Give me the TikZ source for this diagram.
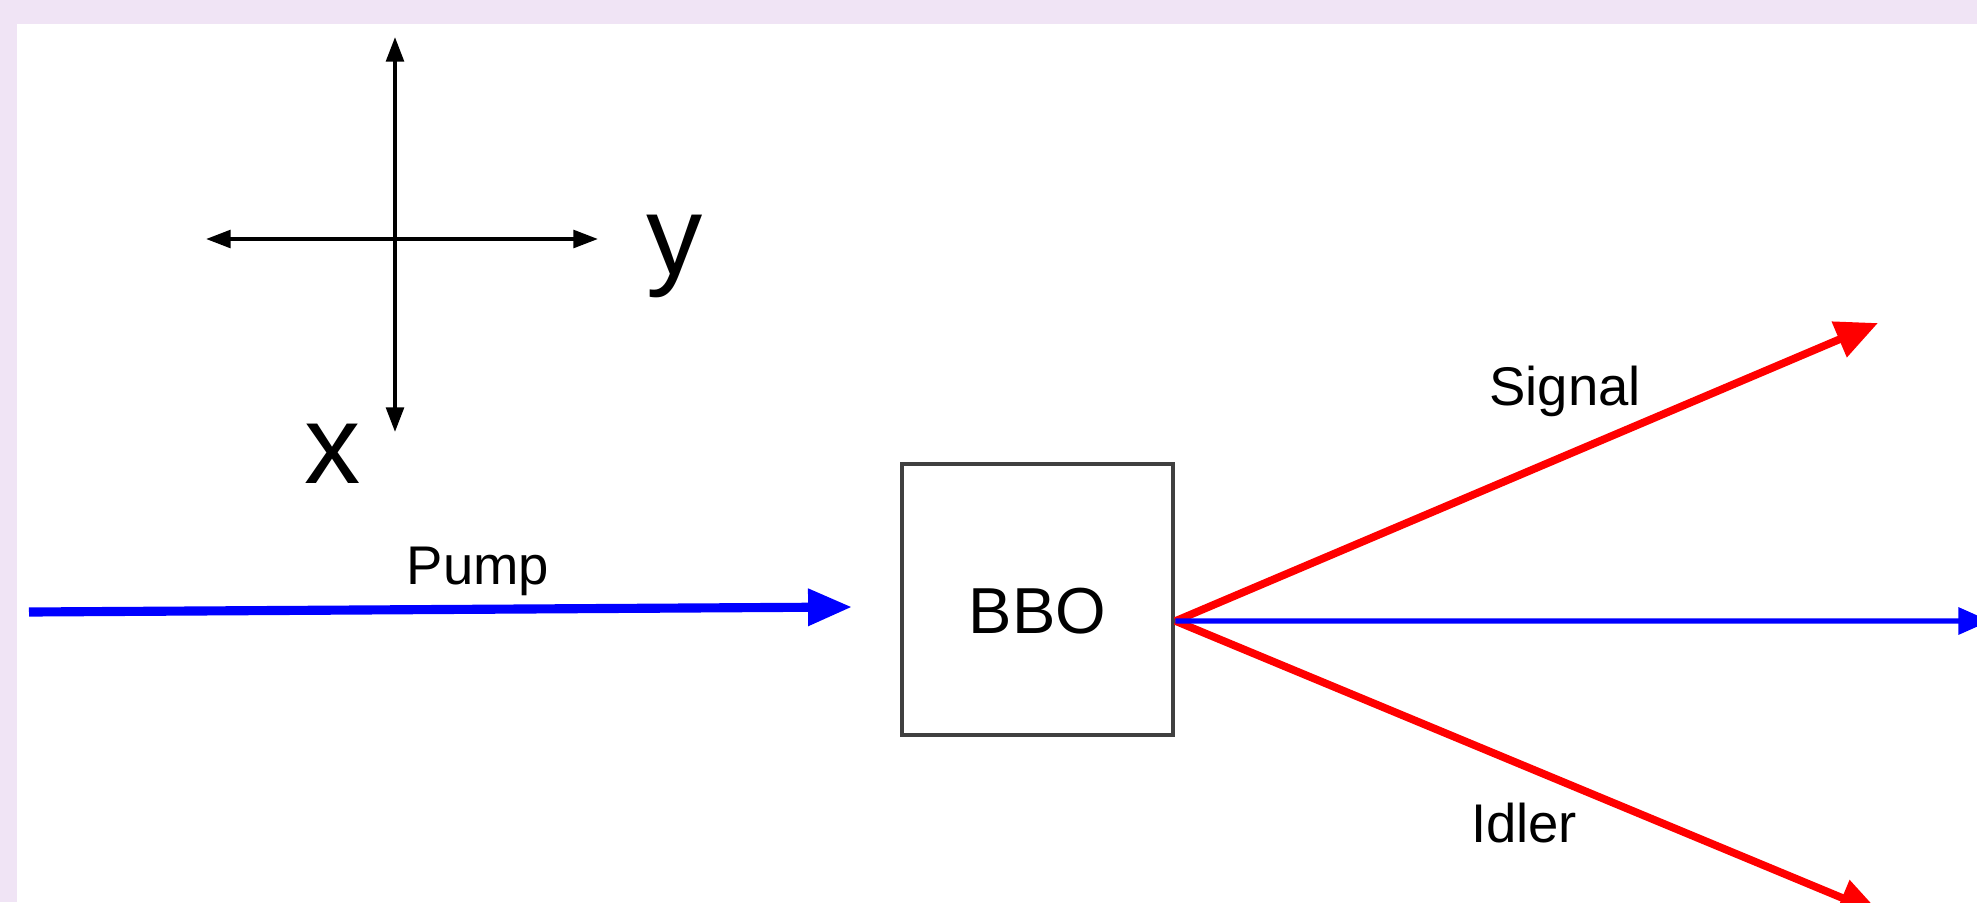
\documentclass[tikz,border=0pt]{standalone}
\usepackage{fontspec}
\setmainfont{Liberation Sans}
\usetikzlibrary{arrows.meta, positioning, calc}
\definecolor{lavender}{RGB}{240,228,245}
\definecolor{boxgray}{RGB}{64,64,64}

\begin{document}
\begin{tikzpicture}[
  axis/.style={black, line width=1.1pt, {Triangle[length=7pt,width=5pt]}-{Triangle[length=7pt,width=5pt]}},
  pumpbeam/.style={blue, line width=2.6pt, -{Triangle[length=12.5pt,width=10pt]}},
  passbeam/.style={blue, line width=1.5pt, -{Triangle[length=9pt,width=7.5pt]}},
  photon/.style={red, line width=2.2pt, -{Triangle[length=12pt,width=10.5pt]}},
  crystal/.style={draw=boxgray, line width=1.4pt, minimum width=2.71cm, minimum height=2.71cm, inner sep=0pt},
  beamtext/.style={font=\fontsize{15.5}{18}\selectfont, inner sep=0pt},
  axistext/.style={font=\fontsize{32}{36}\selectfont, inner sep=0pt}
]
%page and panel
\path[use as bounding box, clip] (0,0) rectangle (19.77,9.02);
\fill[lavender] (0,0) rectangle (19.77,9.02);
\fill[white] (0.17,0) rectangle (19.77,8.78);

%axes
\coordinate (xtop) at (3.95,8.65);
\coordinate (xbottom) at (3.95,4.70);
\coordinate (yleft) at (2.06,6.63);
\coordinate (yright) at (5.98,6.63);
\draw[axis] (xtop) -- (xbottom);
\draw[axis] (yleft) -- (yright);
\node[axistext] (ylab) at (6.75,6.46) {y};
\node[axistext] (xlab) at (3.33,4.485) {x};

%crystal
\node[crystal] (bbo) at (10.375,3.025) {};
\node[font=\fontsize{18.5}{22}\selectfont, inner sep=0pt] (bbotext) at ([yshift=-1.2mm]bbo.center) {BBO};

%pump beam
\coordinate (laser) at (0.29,2.90);
\coordinate (pumpend) at (8.52,2.95);
\draw[pumpbeam] (laser) -- (pumpend);
\node[beamtext] (pumptext) at (4.78,3.305) {Pump};

%outgoing beams
\coordinate (exit) at ([yshift=-2.15mm]bbo.east);
\coordinate (through) at (19.90,2.81);
\coordinate (sigend) at (18.78,5.79);
\coordinate (idlend) at (18.81,-0.12);
\draw[photon] (exit) -- (sigend);
\draw[photon] (exit) -- (idlend);
\draw[passbeam] (exit) -- (through);
\node[beamtext] (sigtext) at (15.65,5.105) {Signal};
\node[beamtext] (idltext) at (15.24,0.79) {Idler};

\end{tikzpicture}
\end{document}
